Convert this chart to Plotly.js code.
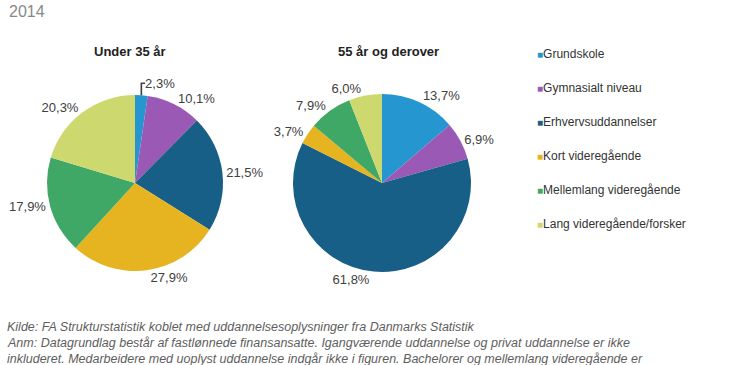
<!DOCTYPE html>
<html><head><meta charset="utf-8">
<script src="https://cdn.plot.ly/plotly-3.0.1.min.js"></script>
<style>html,body{margin:0;padding:0;background:#fff}</style>
</head><body><div id="chart" style="width:730px;height:365px"></div>
<script>
const categories = ["Grundskole","Gymnasialt niveau","Erhvervsuddannelser","Kort videregående","Mellemlang videregående","Lang videregående/forsker"];
const under35 = [2.3,10.1,21.5,27.9,17.9,20.3];
const over55 = [13.7,6.9,61.8,3.7,7.9,6.0];
const groupTitles = ["Under 35 år","55 år og derover"];
const colors = ["#2596d0","#9b59b6","#175f86","#e5b420","#3fa866","#cdd86e"];
const year = "2014";
const notes = [
 "Kilde: FA Strukturstatistik koblet med uddannelsesoplysninger fra Danmarks Statistik",
 "Anm: Datagrundlag består af fastlønnede finansansatte. Igangværende uddannelse og privat uddannelse er ikke",
 "inkluderet. Medarbeidere med uoplyst uddannelse indgår ikke i figuren. Bachelorer og mellemlang videregående er"
];
const W=730,H=365;
const FONT='Liberation Sans, Arial, sans-serif';
function dom(cx,cy,r){return {x:[(cx-r)/W,(cx+r)/W],y:[1-(cy+r)/H,1-(cy-r)/H]};}
const pieCommon = {
  type:'pie', labels:categories, sort:false, direction:'clockwise', rotation:0,
  marker:{colors:colors,line:{width:0}},
  textposition:'outside', texttemplate:'%{value:.1f}%',
  textfont:{family:FONT,size:13,color:'#404040'},
  showlegend:false, hoverinfo:'label+value', automargin:false
};
const traces = [
  Object.assign({},pieCommon,{values:under35,domain:dom(135,183,88),name:groupTitles[0]}),
  Object.assign({},pieCommon,{values:over55,domain:dom(382,183,89),name:groupTitles[1]})
];
categories.forEach((c,i)=>{
  traces.push({type:'scatter',mode:'markers',x:[null],y:[null],
    name:'<span style="font-size:10px;fill:'+colors[i]+'">■</span>'+c,legendgroup:'g'+i,
    marker:{symbol:'square',size:7,color:'rgba(0,0,0,0)'},showlegend:true,hoverinfo:'skip'});
});
const annotations = [
  {text:year,x:7/W,y:1-12/H,xref:'paper',yref:'paper',xanchor:'left',yanchor:'middle',showarrow:false,
   font:{family:FONT,size:16,color:'#888888'}},
  {text:'<b>'+groupTitles[0]+'</b>',x:130/W,y:1-52/H,xref:'paper',yref:'paper',xanchor:'center',yanchor:'middle',showarrow:false,
   font:{family:FONT,size:13,color:'#222'}},
  {text:'<b>'+groupTitles[1]+'</b>',x:388/W,y:1-52/H,xref:'paper',yref:'paper',xanchor:'center',yanchor:'middle',showarrow:false,
   font:{family:FONT,size:13,color:'#222'}}
];
notes.forEach((t,i)=>{
  annotations.push({text:'<i>'+t+'</i>',x:5/W,y:1-(327+i*16)/H,xref:'paper',yref:'paper',xanchor:'left',yanchor:'middle',showarrow:false,
   font:{family:FONT,size:12.5,color:'#5e5e5e'}});
});
Plotly.newPlot('chart',traces,{
  width:W,height:H,margin:{l:0,r:0,t:0,b:0},separators:', ',
  paper_bgcolor:'#fff',plot_bgcolor:'#fff',
  xaxis:{visible:false},yaxis:{visible:false},
  legend:{x:497/W,y:1-39/H,xanchor:'left',yanchor:'top',tracegroupgap:15,
    font:{family:FONT,size:12,color:'#333'},itemwidth:30,bgcolor:'rgba(0,0,0,0)'},
  annotations:annotations
},{displayModeBar:false,staticPlot:true});
</script></body></html>
